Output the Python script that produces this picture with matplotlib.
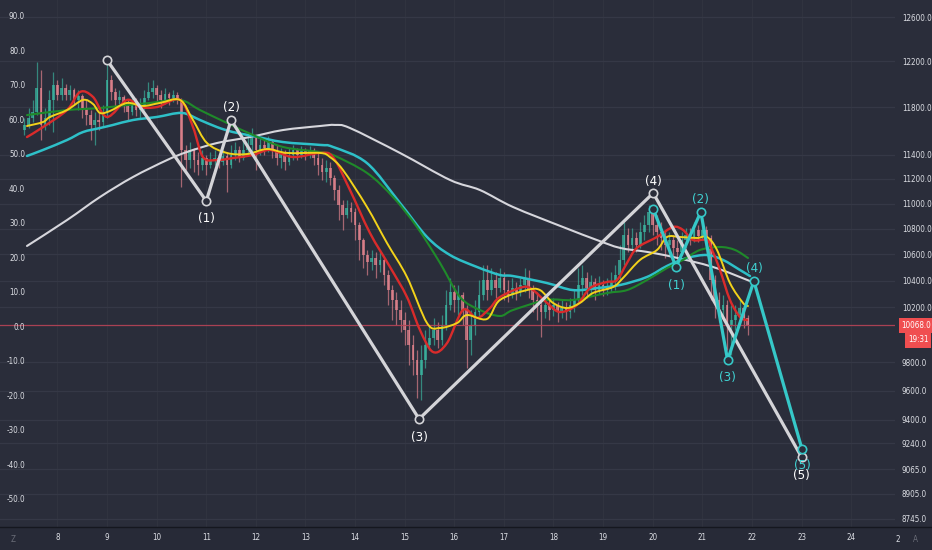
import numpy as np
import matplotlib
matplotlib.use("Agg")
import matplotlib.pyplot as plt
import matplotlib.font_manager as fm
from matplotlib.transforms import blended_transform_factory
from matplotlib.ticker import NullLocator, FixedLocator, FixedFormatter
from matplotlib.lines import Line2D
from matplotlib.patches import Rectangle, PathPatch
from matplotlib.path import Path

# ---------------- data ----------------
bar_start_day = 7 + 8 / 24.0       # first 2h candle
bar_hours = 2
first_open = 11605
closes = [
    11648, 11707, 11758, 11965, 11648, 11707, 11862, 11991, 11905, 11965,
    11905, 11948, 11862, 11896, 11792, 11732, 11648, 11690, 11673, 11758,
    12035, 11931, 11862, 11888, 11818, 11758, 11836, 11775, 11818, 11879,
    11931, 11965, 11905, 11862, 11913, 11879, 11905, 11862, 11438, 11354,
    11438, 11354, 11313, 11371, 11313, 11354, 11371, 11338, 11388, 11313,
    11396, 11438, 11371, 11438, 11480, 11538, 11438, 11480, 11454, 11504,
    11438, 11371, 11421, 11338, 11396, 11438, 11396, 11438, 11404, 11438,
    11371, 11313, 11256, 11288, 11207, 11109, 10989, 10909, 10965, 10933,
    10830, 10712, 10596, 10543, 10573, 10519, 10558, 10443, 10329, 10255,
    10180, 10106, 10033, 9924, 9816, 9710, 9816, 9924, 9975, 10033,
    9960, 10070, 10218, 10314, 10255, 10292, 10180, 9960, 10070, 10165,
    10292, 10405, 10329, 10405, 10344, 10420, 10329, 10292, 10344, 10314,
    10367, 10420, 10329, 10255, 10218, 10165, 10218, 10180, 10218, 10165,
    10195, 10165, 10218, 10255, 10367, 10420, 10344, 10390, 10329, 10367,
    10329, 10344, 10390, 10443, 10558, 10751, 10674, 10728, 10674, 10775,
    10830, 10933, 10830, 10775, 10728, 10674, 10712, 10651, 10620, 10712,
    10751, 10728, 10791, 10744, 10791, 10728, 10405, 10255, 10180, 10218,
    10070, 10106, 10143, 10195, 10121, 10068]
highs = [
    11707, 11792, 11862, 12194, 12123, 11792, 11948, 12105, 12035, 12053,
    12000, 11991, 11965, 11948, 11913, 11862, 11775, 11758, 11758, 11818,
    12212, 12079, 11965, 11948, 11905, 11862, 11896, 11879, 11879, 11948,
    12017, 12035, 11991, 11948, 11965, 11931, 11948, 11931, 11879, 11480,
    11504, 11454, 11421, 11438, 11396, 11421, 11438, 11404, 11438, 11421,
    11480, 11504, 11471, 11521, 11563, 11622, 11563, 11538, 11521, 11555,
    11521, 11480, 11454, 11438, 11454, 11480, 11454, 11471, 11454, 11471,
    11454, 11421, 11371, 11354, 11338, 11232, 11150, 11029, 11029, 11013,
    10965, 10853, 10728, 10635, 10635, 10620, 10635, 10573, 10481, 10367,
    10314, 10255, 10165, 10106, 9997, 9888, 9924, 10033, 10070, 10121,
    10092, 10143, 10329, 10420, 10367, 10367, 10314, 10218, 10180, 10255,
    10405, 10519, 10519, 10496, 10466, 10496, 10466, 10405, 10420, 10390,
    10420, 10496, 10481, 10367, 10314, 10270, 10285, 10255, 10270, 10240,
    10255, 10240, 10270, 10329, 10496, 10519, 10466, 10443, 10420, 10435,
    10405, 10420, 10466, 10519, 10674, 10853, 10806, 10806, 10775, 10853,
    10909, 10989, 10973, 10909, 10853, 10791, 10775, 10751, 10712, 10775,
    10806, 10806, 10853, 10830, 10853, 10822, 10751, 10443, 10314, 10292,
    10255, 10218, 10218, 10255, 10218, 10143]
lows = [
    11563, 11622, 11673, 11732, 11521, 11605, 11648, 11588, 11862, 11862,
    11862, 11862, 11818, 11775, 11707, 11648, 11521, 11480, 11605, 11639,
    11707, 11862, 11810, 11827, 11758, 11690, 11732, 11724, 11707, 11775,
    11862, 11879, 11845, 11792, 11827, 11818, 11845, 11827, 11134, 11272,
    11288, 11256, 11232, 11272, 11232, 11288, 11313, 11288, 11313, 11093,
    11288, 11354, 11338, 11354, 11388, 11421, 11272, 11396, 11396, 11421,
    11371, 11313, 11288, 11272, 11313, 11354, 11354, 11371, 11354, 11371,
    11313, 11232, 11191, 11175, 11150, 11029, 10869, 10791, 10885, 10853,
    10712, 10558, 10496, 10443, 10481, 10420, 10466, 10367, 10218, 10106,
    10070, 10018, 9924, 9781, 9710, 9549, 9535, 9759, 9888, 9924,
    9902, 9924, 10033, 10180, 10165, 10143, 10070, 9759, 9852, 9997,
    10121, 10255, 10255, 10292, 10270, 10314, 10255, 10240, 10270, 10255,
    10285, 10314, 10270, 10165, 10106, 9982, 10121, 10106, 10136, 10092,
    10121, 10106, 10121, 10165, 10240, 10292, 10270, 10285, 10255, 10300,
    10285, 10292, 10314, 10329, 10405, 10519, 10620, 10635, 10620, 10651,
    10712, 10775, 10751, 10674, 10635, 10573, 10596, 10573, 10543, 10596,
    10651, 10674, 10697, 10697, 10712, 10666, 10255, 10121, 10092, 10106,
    9888, 9852, 10033, 10070, 10048, 9997]

red_ma_d = [7.385, 7.708, 8.192, 8.454, 8.716, 8.998, 9.401, 9.663, 10.006, 10.470,
            10.732, 10.933, 11.216, 11.538, 11.942, 12.284, 12.748, 13.292, 13.554, 13.897,
            14.300, 14.704, 15.046, 15.308, 15.571, 15.853, 16.175, 16.458, 16.720, 16.921,
            17.385, 17.587, 17.869, 18.131, 18.474, 18.736, 19.079, 19.280, 19.482, 19.683,
            20.087, 20.409, 20.611, 20.812, 21.095, 21.196, 21.357, 21.558, 21.760, 21.901]
red_ma_p = [11546, 11630, 11775, 11931, 11888, 11716, 11862, 11801, 11801, 11862,
            11630, 11379, 11354, 11371, 11396, 11438, 11379, 11413, 11379, 11109,
            10767, 10504, 10277, 10033, 9874, 9938, 10180, 10121, 10195, 10277,
            10352, 10329, 10233, 10165, 10218, 10344, 10390, 10405, 10535, 10651,
            10736, 10814, 10791, 10712, 10712, 10635, 10481, 10255, 10128, 10106]

yellow_ma_d = [7.385, 7.708, 7.849, 8.192, 8.514, 8.716, 8.857, 9.058, 9.401, 9.724,
               10.067, 10.470, 10.732, 11.014, 11.417, 11.821, 12.224, 12.627, 13.292, 13.494,
               13.756, 14.240, 14.643, 15.046, 15.450, 15.712, 16.054, 16.256, 16.659, 16.921,
               17.466, 17.728, 17.990, 18.272, 18.534, 18.796, 19.200, 19.401, 19.744, 20.087,
               20.288, 20.550, 20.893, 21.095, 21.296, 21.558, 21.821, 21.921]
yellow_ma_p = [11639, 11673, 11716, 11775, 11862, 11827, 11750, 11767, 11836, 11810,
               11836, 11862, 11690, 11496, 11413, 11404, 11446, 11413, 11413, 11379,
               11272, 10973, 10689, 10428, 10084, 10048, 10084, 10143, 10114, 10255,
               10329, 10329, 10233, 10195, 10233, 10307, 10352, 10420, 10558, 10635,
               10736, 10736, 10728, 10736, 10635, 10382, 10233, 10210]

green_ma_d = [7.385, 8.192, 8.857, 9.401, 9.865, 10.470, 10.873, 11.417, 11.942, 12.546,
              13.292, 13.554, 14.240, 14.764, 15.248, 15.712, 16.115, 16.518, 16.921, 17.183,
              17.869, 18.393, 19.079, 19.482, 19.885, 20.288, 20.611, 20.954, 21.357, 21.659,
              21.921]
green_ma_p = [11732, 11775, 11792, 11818, 11836, 11862, 11775, 11665, 11563, 11463,
              11421, 11396, 11248, 11053, 10814, 10535, 10277, 10180, 10136, 10180,
              10255, 10255, 10307, 10329, 10405, 10496, 10558, 10635, 10658, 10635,
              10573]

cyan_ma_d = [7.385, 7.708, 8.192, 8.514, 8.857, 9.119, 9.522, 10.006, 10.510, 10.873,
             11.216, 11.538, 11.942, 12.546, 13.292, 13.554, 14.240, 14.905, 15.450, 15.913,
             16.458, 16.921, 17.183, 17.869, 18.393, 18.877, 19.341, 19.885, 20.288, 20.692,
             21.095, 21.417, 21.760, 21.962]
cyan_ma_p = [11388, 11438, 11521, 11588, 11622, 11648, 11690, 11716, 11750, 11690,
             11630, 11588, 11555, 11504, 11480, 11463, 11329, 11005, 10736, 10596,
             10504, 10443, 10435, 10382, 10329, 10344, 10367, 10428, 10512, 10573,
             10596, 10558, 10481, 10435]

white_ma_d = [7.385, 8.192, 8.857, 9.522, 10.208, 10.611, 11.216, 11.881, 12.546, 13.292,
              13.595, 13.897, 14.905, 15.913, 16.518, 17.183, 18.192, 18.877, 19.341, 19.885,
              20.409, 21.216, 21.962]
white_ma_p = [10666, 10869, 11053, 11215, 11354, 11421, 11496, 11546, 11605, 11639,
              11648, 11622, 11413, 11191, 11109, 10973, 10814, 10712, 10651, 10620,
              10581, 10504, 10397]

white_wave_d = [9.0, 11.0, 11.5, 15.29, 20.01, 23.0]
white_wave_p = [12210, 11021, 11690, 9404, 11085, 9147]
white_wave_lbl = ["", "(1)", "(2)", "(3)", "(4)", "(5)"]
white_wave_off = [0, -12.5, 8.8, -13, 8.3, -13]

cyan_wave_d = [20.01, 20.47, 20.97, 21.51, 22.04, 23.01]
cyan_wave_p = [10957, 10504, 10933, 9816, 10397, 9200]
cyan_wave_lbl = ["", "(1)", "(2)", "(3)", "(4)", "(5)"]
cyan_wave_off = [0, -13, 8.8, -12.3, 9.3, -11.5]

last_price = 10068
last_time = "19:31"
right_ticks = [12600, 12200, 11800, 11400, 11200, 11000, 10800, 10600, 10400,
               10200, 9800, 9600, 9400, 9240, 9065, 8905, 8745]
left_ticks = [90, 80, 70, 60, 50, 40, 30, 20, 10, 0, -10, -20, -30, -40, -50]
day_ticks = [8, 9, 10, 11, 12, 13, 14, 15, 16, 17, 18, 19, 20, 21, 22, 23, 24]


# left (overlay) scale -> price scale
def left_to_price(v):
    return 10055.0 * np.exp(0.002511 * v)


# ---------------- fonts ----------------
def find_font():
    prefs = ["LiberationSansNarrow-Regular", "DejaVuSansCondensed.ttf",
             "RobotoCondensed-Regular", "Roboto-Regular", "DejaVuSans.ttf"]
    files = [f.fname for f in fm.fontManager.ttflist]
    for p in prefs:
        for fn in files:
            if p in fn.replace("\\", "/").split("/")[-1]:
                return fn, p
    return None, None


font_file, font_key = find_font()
if font_file:
    FP = fm.FontProperties(fname=font_file)
else:
    FP = fm.FontProperties(family="DejaVu Sans")
if font_key and "Narrow" in font_key:
    small_fs, wave_fs = 7.0, 11.0
elif font_key and "Condensed" in font_key:
    small_fs, wave_fs = 5.8, 9.5
else:
    small_fs, wave_fs = 5.5, 9.0

# ---------------- style ----------------
BG = "#2a2d3a"
STRIP = "#272a37"
GRID = "#353846"
VGRID = "#30333f"
TXT = "#dcdee4"
UP = "#3cc0a8"
DOWN = "#f28a94"
WAVE_W = "#d4d4d8"
WAVE_C = "#36c8c8"
BOX = "#f04e50"


def smooth_line(ax, xs, ps, color, lw, z):
    x = np.asarray(xs, float)
    y = np.log(np.asarray(ps, float))
    m = len(x)
    verts = [(x[0], y[0])]
    codes = [Path.MOVETO]
    for i in range(m - 1):
        i0 = max(i - 1, 0)
        i3 = min(i + 2, m - 1)
        c1 = (x[i] + (x[i + 1] - x[i0]) / 6, y[i] + (y[i + 1] - y[i0]) / 6)
        c2 = (x[i + 1] - (x[i3] - x[i]) / 6, y[i + 1] - (y[i3] - y[i]) / 6)
        verts += [c1, c2, (x[i + 1], y[i + 1])]
        codes += [Path.CURVE4] * 3
    verts = [(vx, np.exp(vy)) for vx, vy in verts]
    ax.add_patch(PathPatch(Path(verts, codes), fill=False, edgecolor=color, lw=lw,
                           zorder=z, capstyle="round", joinstyle="round"))


fig = plt.figure(figsize=(9.32, 5.5), dpi=100)
fig.patch.set_facecolor(BG)
ax = fig.add_axes([0, 23 / 550, 895 / 932, 527 / 550])
ax.set_facecolor(BG)
ax.set_yscale("log")
ax.set_xlim(6.841, 24.885)
ax.set_ylim(8693, 12757)
for s in ax.spines.values():
    s.set_visible(False)

# bottom time strip
fig.add_artist(Rectangle((0, 0), 1, 23 / 550, transform=fig.transFigure,
                         facecolor=STRIP, edgecolor="none", zorder=0))
fig.add_artist(Line2D([0, 1], [23 / 550, 23 / 550], transform=fig.transFigure,
                      color="#15171f", lw=1.0))

# grids / axes
ax.yaxis.set_major_locator(FixedLocator(right_ticks))
ax.yaxis.set_major_formatter(FixedFormatter([f"{t:.1f}" for t in right_ticks]))
ax.yaxis.set_minor_locator(NullLocator())
ax.yaxis.tick_right()
ax.tick_params(axis="y", length=0, pad=5, labelcolor=TXT)
ax.set_xticks(day_ticks)
ax.set_xticklabels([str(d) for d in day_ticks])
ax.tick_params(axis="x", length=0, pad=4.0, labelcolor=TXT)
for lab in ax.get_yticklabels() + ax.get_xticklabels():
    lab.set_fontproperties(FP)
    lab.set_fontsize(small_fs)
ax.grid(axis="y", color=GRID, lw=0.9, zorder=0)
ax.grid(axis="x", color=VGRID, lw=0.8, zorder=0)
ax.set_axisbelow(True)

# left overlay scale labels
bt = blended_transform_factory(ax.transAxes, ax.transData)
for v in left_ticks:
    ax.text(0.028, left_to_price(v), f"{v:.1f}", transform=bt, ha="right",
            va="center", fontproperties=FP, fontsize=small_fs, color=TXT, zorder=6)

# candles
n = len(closes)
t = bar_start_day + np.arange(n) * bar_hours / 24.0
opens = [first_open] + closes[:-1]
bw = 0.056
for i in range(n):
    o, c = opens[i], closes[i]
    col = UP if c >= o else DOWN
    hi = max(highs[i], o, c)
    lo = min(lows[i], o, c)
    ax.vlines(t[i], lo, hi, color=col, lw=0.9, alpha=0.62, zorder=2)
    ax.bar(t[i], abs(c - o) + 4, bottom=min(o, c) - 2, width=bw, color=col,
           alpha=0.68, linewidth=0, zorder=2)

# last price line
ax.axhline(last_price, color="#b84456", lw=0.9, alpha=0.9, zorder=3)

# moving averages
smooth_line(ax, white_ma_d, white_ma_p, "#d6d6dc", 1.5, 4)
smooth_line(ax, cyan_ma_d, cyan_ma_p, "#2ec0c8", 1.8, 4)
smooth_line(ax, green_ma_d, green_ma_p, "#1f8a2a", 1.5, 4)
smooth_line(ax, red_ma_d, red_ma_p, "#d92b2b", 1.7, 4)
smooth_line(ax, yellow_ma_d, yellow_ma_p, "#f2d21a", 1.4, 4)

# Elliott waves
ax.plot(white_wave_d, white_wave_p, color=WAVE_W, lw=2.3, zorder=5,
        marker="o", ms=6, mfc=BG, mec=WAVE_W, mew=1.2, solid_joinstyle="round")
ax.plot(cyan_wave_d, cyan_wave_p, color=WAVE_C, lw=2.3, zorder=5,
        marker="o", ms=6, mfc=BG, mec=WAVE_C, mew=1.2, solid_joinstyle="round")
for d, p, lbl, off in zip(white_wave_d, white_wave_p, white_wave_lbl, white_wave_off):
    if lbl:
        ax.annotate(lbl, (d, p), xytext=(0, off), textcoords="offset points",
                    ha="center", va="center", color="#ffffff", fontproperties=FP,
                    fontsize=wave_fs, zorder=7)
for d, p, lbl, off in zip(cyan_wave_d, cyan_wave_p, cyan_wave_lbl, cyan_wave_off):
    if lbl:
        ax.annotate(lbl, (d, p), xytext=(0, off), textcoords="offset points",
                    ha="center", va="center", color="#40d2d2", fontproperties=FP,
                    fontsize=wave_fs, zorder=7)

# price & time boxes on the right scale
ax.text(1.0075, last_price, f"{last_price:.1f}", transform=bt, ha="left", va="center",
        fontproperties=FP, fontsize=small_fs, color="white", clip_on=False, zorder=8,
        bbox=dict(boxstyle="square,pad=0.38", fc=BOX, ec="none"))
bf = blended_transform_factory(fig.transFigure, ax.transData)
ax.annotate(last_time, (0.996, last_price), xycoords=bf, xytext=(0, -10.6),
            textcoords="offset points", ha="right", va="center", fontproperties=FP,
            fontsize=small_fs, color="white", zorder=8, annotation_clip=False,
            bbox=dict(boxstyle="square,pad=0.38", fc=BOX, ec="none"))

# clipped edge labels of the time strip
fig.text(13 / 932, 11 / 550, "Z", color="#6a6d78", fontproperties=FP, fontsize=small_fs,
         ha="center", va="center")
fig.text(898 / 932, 11 / 550, "2", color=TXT, fontproperties=FP, fontsize=small_fs,
         ha="center", va="center")
fig.text(915 / 932, 11 / 550, "A", color="#6a6d78", fontproperties=FP, fontsize=small_fs,
         ha="center", va="center")

fig.savefig("out.png", dpi=100, facecolor=fig.get_facecolor())
